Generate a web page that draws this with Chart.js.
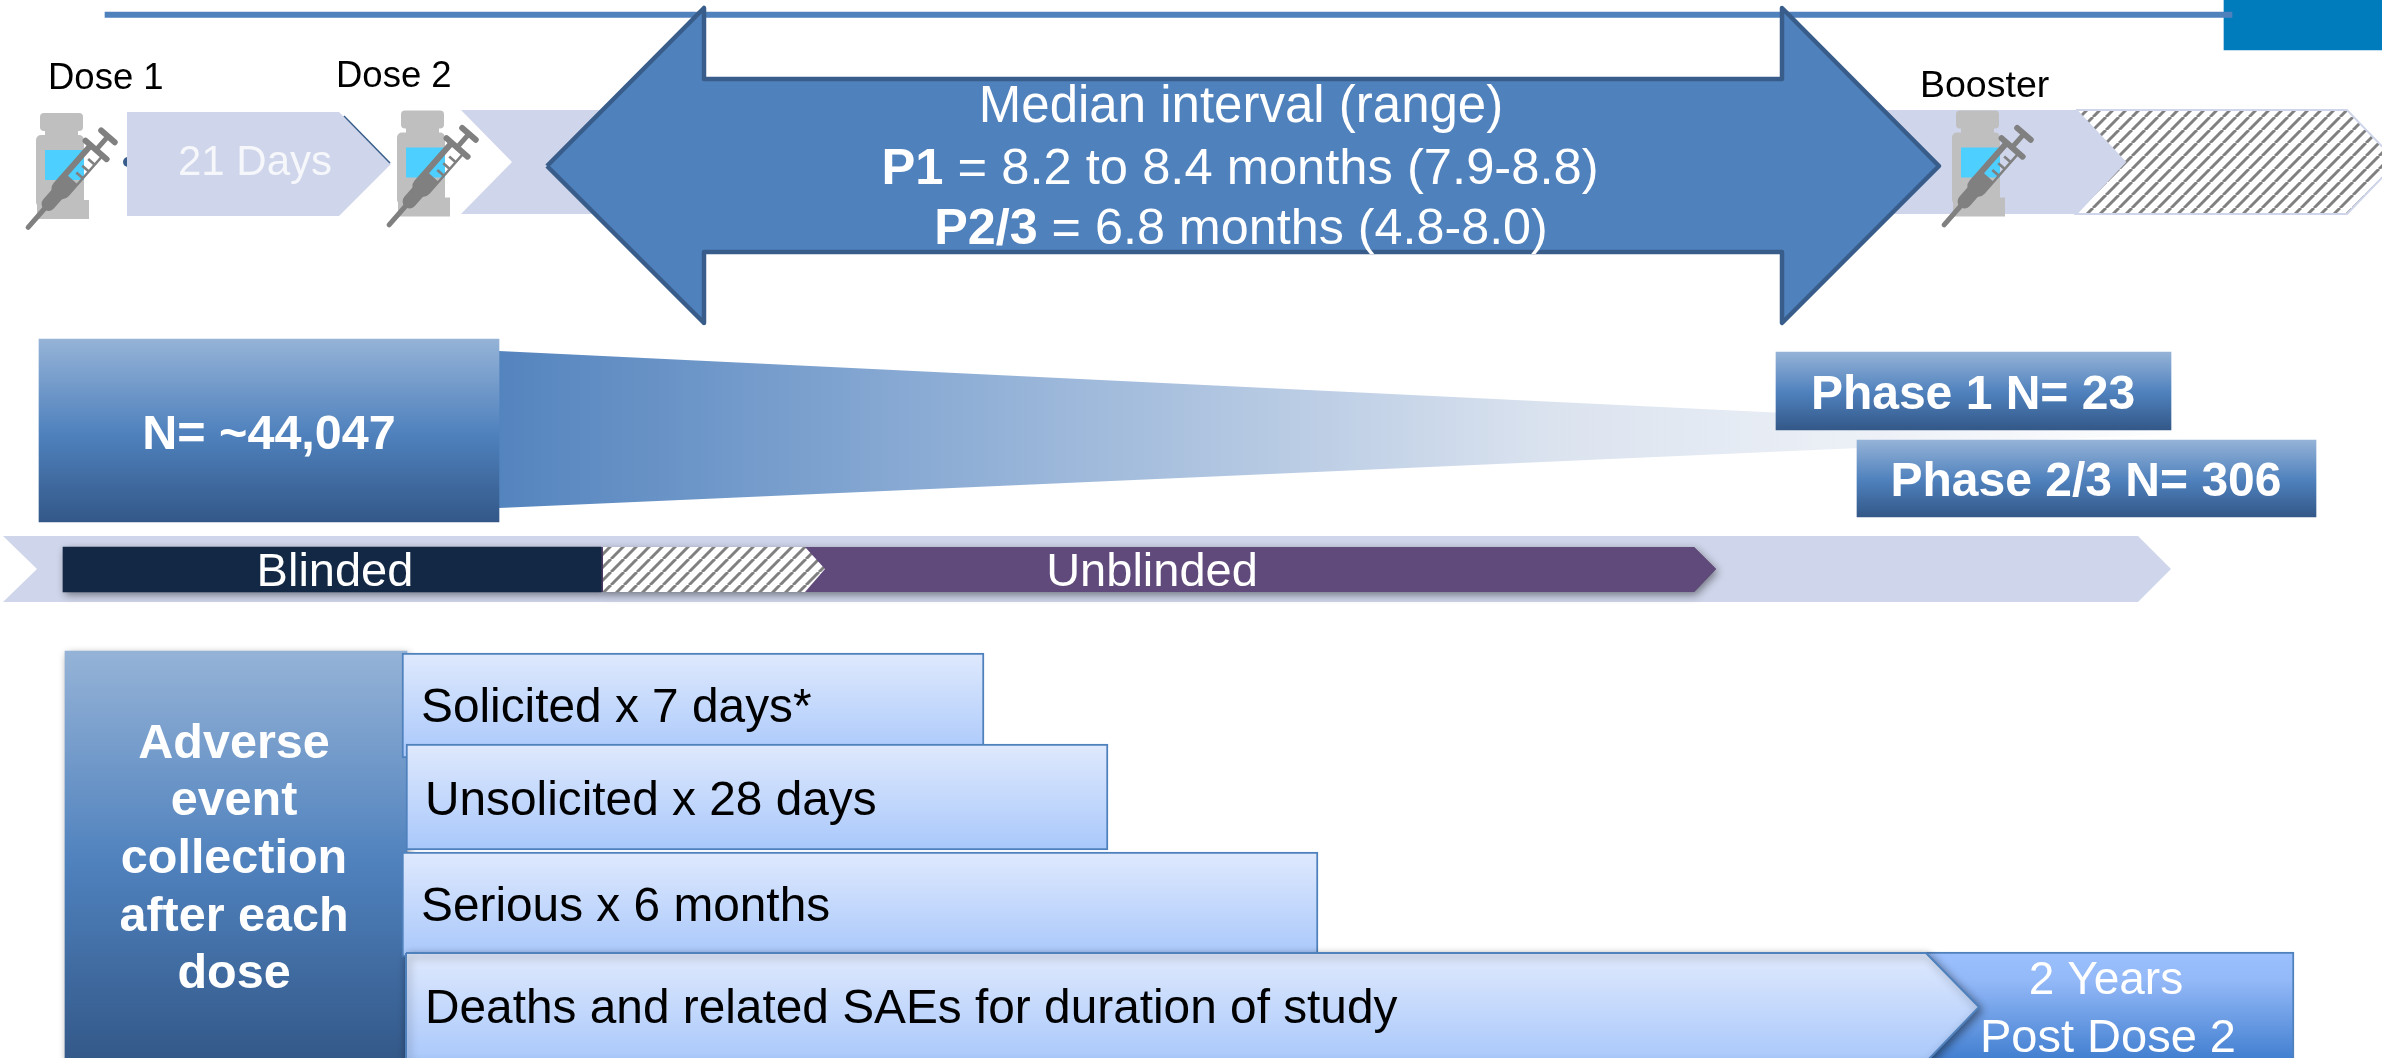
<!DOCTYPE html>
<html>
<head>
<meta charset="utf-8">
<title>Study schedule</title>
<script src="https://cdn.jsdelivr.net/npm/chart.js@4/dist/chart.umd.js"></script>
<style>
  html, body { margin: 0; padding: 0; background: #fff; overflow: hidden; }
  canvas { display: block; }
</style>
</head>
<body>
<canvas id="chart" width="2382" height="1058"></canvas>
<script>
// labels
const doseLabels = ['Dose 1', 'Dose 2', 'Booster'];
const intervalLabel = 'Median interval (range)';
const intervalRows = [
  ['P1', ' = 8.2 to 8.4 months (7.9-8.8)'],
  ['P2/3', ' = 6.8 months (4.8-8.0)']
];
const gapLabel = '21 Days';
const enrolledLabel = 'N= ~44,047';
const phaseLabels = ['Phase 1 N= 23', 'Phase 2/3 N= 306'];
const blindingLabels = ['Blinded', 'Unblinded'];
const aeTitle = ['Adverse', 'event', 'collection', 'after each', 'dose'];
const aeLabels = ['Solicited x 7 days*', 'Unsolicited x 28 days', 'Serious x 6 months', 'Deaths and related SAEs for duration of study'];
const followUpLabels = ['2 Years', 'Post Dose 2'];

// spans along the timeline scale
const gapStart = 127, gapEnd = 391;
const intervalFrom = 461, intervalTo = 2076;
const extensionEnd = 2347;
const enrolledSpan = [39, 499];
const phaseStart = [1776, 1857];
const phaseEnd = [2171, 2316];
const blindedSpan = [63, 601];
const crossoverSpan = [603, 805];
const unblindedSpan = [601, 1694];
const studyEnd = 2138;
const aeStart = [402, 406, 402, 406];
const aeEnd = [984, 1108, 1318, 1926];
const followUpEnd = 2294;

const BOX_STOPS = [[0, '#95b3d7'], [0.52, '#4f81bd'], [1, '#335888']];
const ROW_STOPS = [[0, '#dfe9fd'], [1, '#a9c8fb']];
const FONT = '"Liberation Sans", Arial, sans-serif';

// gradient between two values of one scale, flat until the scales are laid out
function scaleGrad(axis, from, to, stops) {
  return function (c) {
    const { ctx, scales } = c.chart;
    const a = scales[axis] ? scales[axis].getPixelForValue(from) : NaN;
    const b = scales[axis] ? scales[axis].getPixelForValue(to) : NaN;
    if (!isFinite(a) || !isFinite(b)) return stops[0][1];
    const g = axis === 'y' ? ctx.createLinearGradient(0, a, 0, b) : ctx.createLinearGradient(a, 0, b, 0);
    stops.forEach(s => g.addColorStop(s[0], s[1]));
    return g;
  };
}
const vGrad = (top, bottom, stops) => scaleGrad('y', top, bottom, stops);
const hGrad = (left, right, stops) => scaleGrad('x', left, right, stops);

// grey diagonal stripes on white
function hatch() {
  const size = 13;
  const tile = document.createElement('canvas');
  tile.width = tile.height = size;
  const t = tile.getContext('2d');
  t.fillStyle = '#fff';
  t.fillRect(0, 0, size, size);
  t.strokeStyle = '#808080';
  t.lineWidth = 3;
  [0, size, size * 2].forEach(c => {
    t.beginPath();
    t.moveTo(c - size, size);
    t.lineTo(c, 0);
    t.stroke();
  });
  return document.getElementById('chart').getContext('2d').createPattern(tile, 'repeat');
}
const stripes = hatch();

function bar(span, top, bottom, fill, extra) {
  return Object.assign({
    type: 'bar',
    indexAxis: 'y',
    grouped: false,
    barThickness: bottom - top,
    data: [{ x: span, y: (top + bottom) / 2 }],
    backgroundColor: fill,
    borderWidth: 0,
    borderSkipped: false
  }, extra);
}

function shape(points, fill, extra) {
  return Object.assign({
    type: 'line',
    data: points.map(p => ({ x: p[0], y: p[1] })),
    backgroundColor: fill,
    borderWidth: 0,
    fill: 'shape',
    tension: 0,
    pointRadius: 0,
    clip: false
  }, extra);
}

const LAVENDER = '#cfd5ea';
const rowTops = [653, 744, 852, 953];
const rowBottoms = [758, 850, 957, 1062];

const datasets = [
  bar([2224, 2382], 0, 50, '#007bbb'),
  bar([105, 2232], 12, 17.5, '#4f81bd'),

  // dose gap and booster interval chevrons
  { type: 'line', data: [{ x: 128, y: 162 }], pointRadius: 5, pointBackgroundColor: '#385d8a', pointBorderWidth: 0, showLine: false },
  shape([[gapStart, 112], [339, 112], [gapEnd, 164], [339, 216], [gapStart, 216], [gapStart, 112]], LAVENDER),
  shape([[344, 116], [390, 163]], 'transparent', { fill: false, borderWidth: 1.5, borderColor: '#385d8a' }),
  shape([[intervalTo, 110], [2125, 162], [intervalTo, 214], [extensionEnd, 214], [2397, 162], [extensionEnd, 110], [intervalTo, 110]], stripes, { borderWidth: 2, borderColor: LAVENDER }),
  shape([[intervalFrom, 110], [512, 162], [intervalFrom, 214], [intervalTo, 214], [2125, 162], [intervalTo, 110], [intervalFrom, 110]], LAVENDER),
  shape([[547, 166], [704, 8], [704, 79], [1782, 79], [1782, 8], [1939, 166], [1782, 323], [1782, 252], [704, 252], [704, 323], [547, 166]], '#4f81bd', { borderWidth: 4.5, borderColor: '#385d8a', borderJoinStyle: 'round' }),

  // enrolment funnel
  shape([[499, 351], [2200, 433], [499, 508], [499, 351]], hGrad(499, 2200, [[0, '#5484be'], [0.25, '#8aabd4'], [0.62, '#dbe3ef'], [1, '#ffffff']])),
  bar(enrolledSpan, 339, 522, vGrad(339, 522, BOX_STOPS)),
  bar([phaseStart[0], phaseEnd[0]], 352, 430, vGrad(352, 430, BOX_STOPS)),
  bar([phaseStart[1], phaseEnd[1]], 440, 517, vGrad(440, 517, BOX_STOPS)),

  // blinding timeline
  shape([[3, 536], [studyEnd, 536], [2171, 569], [studyEnd, 602], [3, 602], [37, 569], [3, 536]], LAVENDER),
  shape([[unblindedSpan[0], 547], [unblindedSpan[1], 547], [1716, 569], [unblindedSpan[1], 592], [unblindedSpan[0], 592], [unblindedSpan[0], 547]], '#604a7b', { shadow: true }),
  bar(blindedSpan, 547, 592, '#122845', { shadow: true }),
  shape([[crossoverSpan[0], 547], [crossoverSpan[1], 547], [825, 569], [crossoverSpan[1], 592], [crossoverSpan[0], 592], [crossoverSpan[0], 547]], stripes),

  // adverse event collection
  bar([65, 407], 651, 1062, vGrad(651, 1062, BOX_STOPS), { shadow: true }),
  bar([aeEnd[3], followUpEnd], 952, 1062, vGrad(952, 1062, [[0, '#9bc0fd'], [0.25, '#94b9f8'], [1, '#3f7dcf']]), { borderWidth: 2, borderColor: '#4f81bd' }),
  ...[0, 1, 2].map(i => bar([aeStart[i], aeEnd[i]], rowTops[i], rowBottoms[i],
    vGrad(rowTops[i], rowBottoms[i], ROW_STOPS), { borderWidth: 2, borderColor: '#4f81bd' })),
  shape([[aeStart[3], rowTops[3]], [aeEnd[3], rowTops[3]], [1979, 1007], [aeEnd[3], rowBottoms[3]], [aeStart[3], rowBottoms[3]], [aeStart[3], rowTops[3]]],
    vGrad(rowTops[3], rowBottoms[3], ROW_STOPS), { borderWidth: 2, borderColor: '#4f81bd', shadow: true })
];
// later entries paint on top
datasets.forEach((d, i) => { d.order = datasets.length - i; });

// soft shadows for the datasets flagged with shadow
const shadowPlugin = {
  id: 'softShadow',
  beforeDatasetDraw(chart, args) {
    if (!chart.data.datasets[args.index].shadow) return;
    const ctx = chart.ctx;
    ctx.save();
    ctx.shadowColor = 'rgba(0,0,0,0.45)';
    ctx.shadowBlur = 8;
    ctx.shadowOffsetX = 2;
    ctx.shadowOffsetY = 3;
    if (args.meta.type === 'line') {
      const pts = args.meta.data;
      ctx.beginPath();
      pts.forEach((p, i) => (i ? ctx.lineTo(p.x, p.y) : ctx.moveTo(p.x, p.y)));
      ctx.closePath();
      ctx.fillStyle = args.meta.dataset.options.backgroundColor;
      ctx.fill();
    }
  },
  afterDatasetDraw(chart, args) {
    if (chart.data.datasets[args.index].shadow) chart.ctx.restore();
  }
};

// vial and syringe drawn from the origin of a 120x140 icon box
function drawIcon(ctx, ox, oy) {
  ctx.save();
  ctx.translate(ox, oy);
  ctx.fillStyle = '#bfbfbf';
  ctx.beginPath();
  ctx.roundRect(20, 13, 43, 18, 4);
  ctx.fill();
  ctx.fillRect(25, 30, 33, 6);
  ctx.beginPath();
  ctx.roundRect(16, 35, 48, 72, 5);
  ctx.fill();
  ctx.fillRect(17, 100, 52, 19);
  ctx.fillStyle = '#4dcfff';
  ctx.fillRect(25, 50, 39, 30);

  ctx.translate(23.3, 110);
  ctx.rotate(-48.7 * Math.PI / 180);
  ctx.strokeStyle = ctx.fillStyle = '#808080';
  ctx.lineCap = 'round';
  const seg = (a, b, c, d, w) => {
    ctx.lineWidth = w;
    ctx.beginPath();
    ctx.moveTo(a, b);
    ctx.lineTo(c, d);
    ctx.stroke();
  };
  seg(-23, 0, 8, 0, 5);
  seg(8, 0, 20, 0, 14);
  // barrel with its open window
  ctx.beginPath();
  ctx.roundRect(18, -10, 62, 20, [9, 0, 0, 9]);
  ctx.rect(42, -4, 37, 11.5);
  ctx.fill('evenodd');
  seg(80, -14, 80, 14, 6);
  seg(80, 0, 98, 0, 5);
  seg(98, -9, 98, 9, 6);
  ctx.lineCap = 'butt';
  [50, 59, 68].forEach(t => seg(t, 8, t, 0, 2.6));
  ctx.restore();
}

function text(ctx, str, x, y, size, color, weight, align) {
  ctx.font = (weight || 'normal') + ' ' + size + 'px ' + FONT;
  ctx.fillStyle = color;
  ctx.textAlign = align || 'left';
  ctx.textBaseline = 'alphabetic';
  ctx.fillText(str, x, y);
}

// one centred row made of a bold run and a regular run
function mixedRow(ctx, row, cx, y, size) {
  ctx.font = 'bold ' + size + 'px ' + FONT;
  const a = ctx.measureText(row[0]).width;
  ctx.font = size + 'px ' + FONT;
  const b = ctx.measureText(row[1]).width;
  const left = cx - (a + b) / 2;
  text(ctx, row[0], left, y, size, '#fff', 'bold');
  text(ctx, row[1], left + a, y, size, '#fff');
}

const overlayPlugin = {
  id: 'overlay',
  afterDatasetsDraw(chart) {
    const ctx = chart.ctx;
    ctx.save();
    [[20, 100], [381, 97.5], [1936, 97.5]].forEach(o => drawIcon(ctx, o[0], o[1]));

    text(ctx, doseLabels[0], 48, 89, 36.5, '#000');
    text(ctx, doseLabels[1], 336, 87, 36.5, '#000');
    text(ctx, doseLabels[2], 1920, 97, 37.5, '#000');
    text(ctx, gapLabel, 255, 175, 42, '#f6f7fb', 'normal', 'center');

    text(ctx, intervalLabel, 1241, 122, 51, '#fff', 'normal', 'center');
    mixedRow(ctx, intervalRows[0], 1240, 184, 50.7);
    mixedRow(ctx, intervalRows[1], 1241, 244, 50.3);

    text(ctx, enrolledLabel, 269, 449, 48.5, '#fff', 'bold', 'center');
    text(ctx, phaseLabels[0], 1973, 409, 48, '#fff', 'bold', 'center');
    text(ctx, phaseLabels[1], 2086, 496, 48, '#fff', 'bold', 'center');

    text(ctx, blindingLabels[0], 335, 586, 47, '#fff', 'normal', 'center');
    text(ctx, blindingLabels[1], 1152, 586, 47, '#fff', 'normal', 'center');

    const titleY = [758, 815, 873, 931, 988];
    aeTitle.forEach((t, i) => text(ctx, t, 234, titleY[i], 48.5, '#fff', 'bold', 'center'));

    const labelX = [421, 425, 421, 425];
    const labelY = [722, 815, 921, 1023];
    aeLabels.forEach((t, i) => text(ctx, t, labelX[i], labelY[i], 47.8, '#000'));

    text(ctx, followUpLabels[0], 2106, 994, 46, '#fff', 'normal', 'center');
    text(ctx, followUpLabels[1], 2108, 1052, 47, '#fff', 'normal', 'center');
    ctx.restore();
  }
};

new Chart(document.getElementById('chart'), {
  type: 'line',
  data: { datasets },
  options: {
    responsive: false,
    animation: false,
    events: [],
    devicePixelRatio: 1,
    layout: { padding: 0, autoPadding: false },
    plugins: { legend: { display: false }, tooltip: { enabled: false }, title: { display: false } },
    scales: {
      x: { type: 'linear', min: 0, max: 2382, display: false, offset: false },
      y: { type: 'linear', min: 0, max: 1058, reverse: true, display: false, offset: false }
    }
  },
  plugins: [shadowPlugin, overlayPlugin]
});
</script>
</body>
</html>
